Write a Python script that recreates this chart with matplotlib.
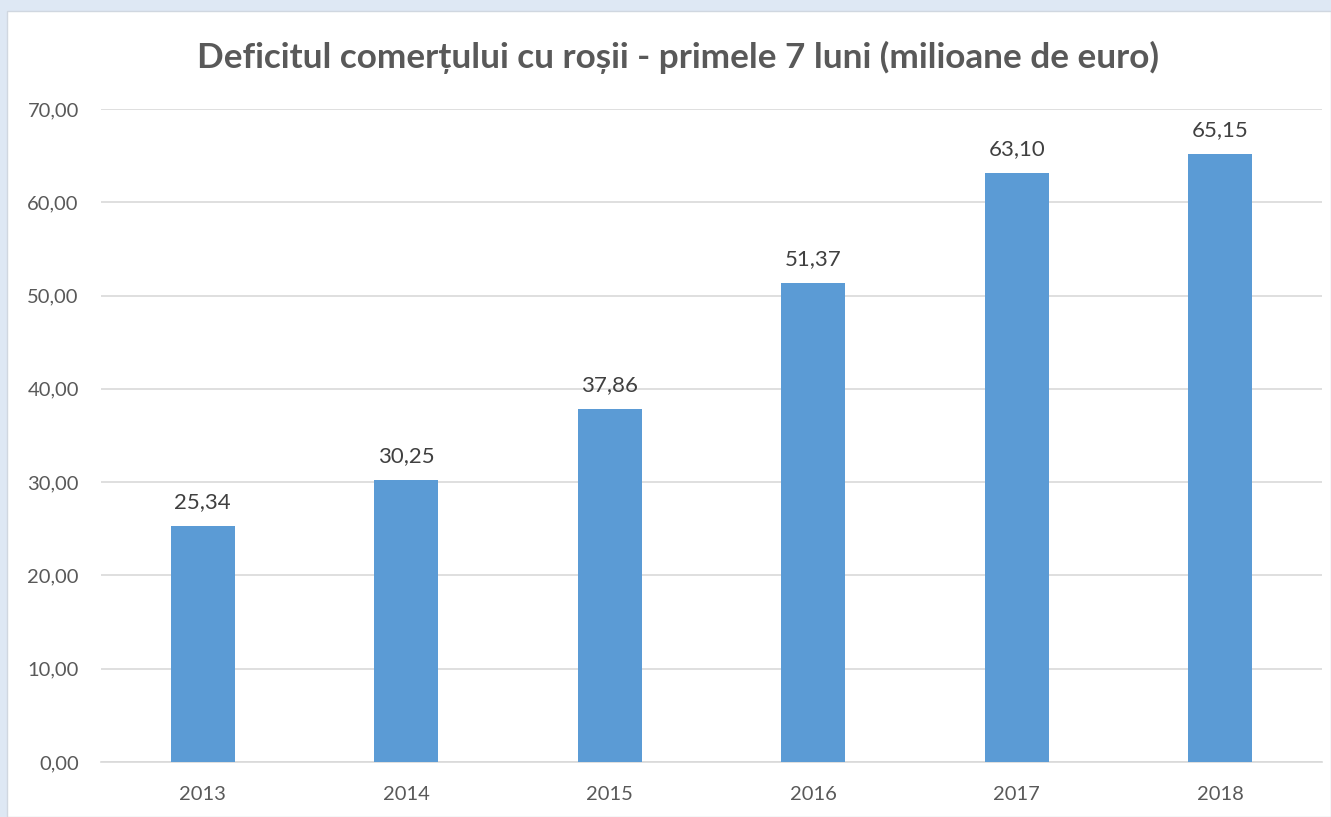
import matplotlib
matplotlib.use("Agg")
import matplotlib.pyplot as plt
from matplotlib.patches import Rectangle

years = ["2013", "2014", "2015", "2016", "2017", "2018"]
values = [25.34, 30.25, 37.86, 51.37, 63.10, 65.15]
yticks = [0, 10, 20, 30, 40, 50, 60, 70]
title = "Deficitul comerțului cu roșii - primele 7 luni (milioane de euro)"

plt.rcParams['font.family'] = ['Lato', 'DejaVu Sans']

W, H = 1331, 817
fig = plt.figure(figsize=(W / 100, H / 100), dpi=100)
fig.patch.set_facecolor('#DEE8F4')
panel = Rectangle((7 / W, 0), 1 - 7 / W, 1 - 11 / H, transform=fig.transFigure,
                  facecolor='white', edgecolor='#D0D7E0', linewidth=1, zorder=-10)
fig.patches.append(panel)

ax = fig.add_axes([101 / W, 1 - 762 / H, (1322 - 101) / W, (762 - 109) / H])
ax.set_facecolor('none')
x = range(len(years))
bars = ax.bar(x, values, width=0.315, color='#5B9BD5', zorder=3)
ax.set_xlim(-0.5, len(years) - 0.5)
ax.set_ylim(0, 70)
ax.set_yticks(yticks)
ax.set_yticklabels([f"{v:.2f}".replace('.', ',') for v in yticks])
ax.set_xticks(list(x))
ax.set_xticklabels(years)
ax.grid(axis='y', color='#D9D9D9', linewidth=1.2, zorder=0)
ax.set_axisbelow(True)
for s in ['top', 'right', 'left']:
    ax.spines[s].set_visible(False)
ax.spines['bottom'].set_color('#D9D9D9')
ax.spines['bottom'].set_linewidth(1.2)
ax.tick_params(axis='both', length=0, labelsize=14.5, colors='#595959')
ax.tick_params(axis='y', pad=16)
ax.tick_params(axis='x', pad=17)

for xi, v in zip(x, values):
    ax.annotate(f"{v:.2f}".replace('.', ','), (xi, v), xytext=(0, 10),
                textcoords='offset points', ha='center', va='bottom',
                fontsize=16, color='#404040')

fig.text(678 / W, 1 - 57 / H, title, ha='center', va='center',
         fontsize=25.3, fontweight='bold', color='#595959')

fig.savefig('out.png', dpi=100, facecolor=fig.get_facecolor())
